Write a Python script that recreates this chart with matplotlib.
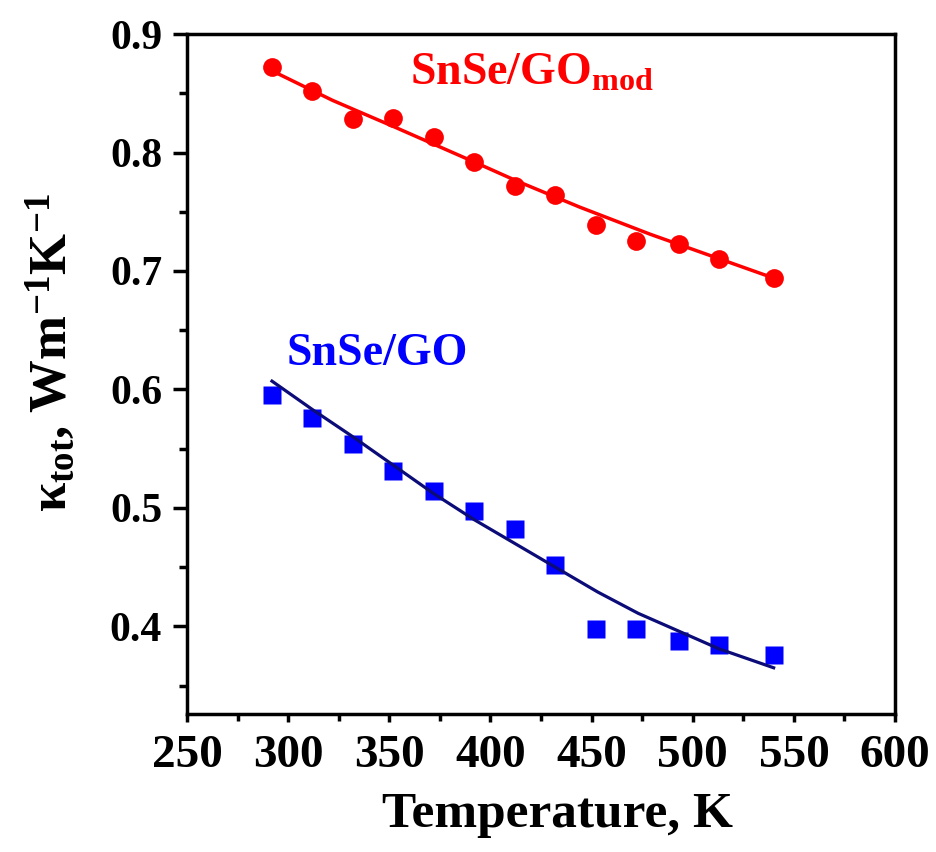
import matplotlib
matplotlib.use("Agg")
import matplotlib.pyplot as plt
from matplotlib.ticker import MultipleLocator, FormatStrFormatter

# ---- data ----
temperature = [292, 312, 332, 352, 372, 392, 412, 432, 452, 472, 493, 513, 540]
kappa_mod = [0.872, 0.852, 0.828, 0.829, 0.813, 0.792, 0.772, 0.764, 0.739, 0.725, 0.723, 0.710, 0.694]
kappa_go = [0.595, 0.576, 0.554, 0.531, 0.514, 0.497, 0.482, 0.452, 0.398, 0.398, 0.388, 0.384, 0.376]

fit_mod_T = [292, 322, 352, 372, 392, 413, 444, 479, 540]
fit_mod = [0.869, 0.844, 0.822, 0.807, 0.792, 0.776, 0.754, 0.731, 0.694]
fit_go_T = [292, 312, 332, 352, 372, 392, 413, 433, 453, 473, 493, 513, 540]
fit_go = [0.607, 0.583, 0.560, 0.536, 0.512, 0.490, 0.469, 0.449, 0.429, 0.411, 0.396, 0.381, 0.365]

label_mod = "SnSe/GO$_{\\mathbf{mod}}$"
label_go = "SnSe/GO"
xlabel = "Temperature, K"
ylabel = "$\\kappa_{\\mathbf{tot}}$, Wm$^{\\mathbf{-1}}$K$^{\\mathbf{-1}}$"

# ---- style ----
plt.rcParams["font.family"] = ["Liberation Serif", "DejaVu Serif"]
plt.rcParams["font.weight"] = "bold"
plt.rcParams["mathtext.fontset"] = "custom"
plt.rcParams["mathtext.rm"] = "Liberation Serif:bold"
plt.rcParams["mathtext.it"] = "Liberation Serif"
plt.rcParams["mathtext.bf"] = "Liberation Serif:bold"

RED = "#ff0000"
BLUE = "#0000ff"
NAVY = "#0c0c78"

fig = plt.figure(figsize=(9.37, 8.52), dpi=100)
ax = fig.add_axes([0.1996, 0.162, 0.7556, 0.798])

ax.plot(fit_mod_T, fit_mod, color=RED, lw=2.5, zorder=2)
ax.plot(temperature, kappa_mod, "o", color=RED, ms=13.5, mec="none", zorder=3)
ax.plot(temperature, kappa_go, "s", color=BLUE, ms=12.5, mec="none", zorder=2)
ax.plot(fit_go_T, fit_go, color=NAVY, lw=2.3, zorder=3)

ax.text(360, 0.857, label_mod, color=RED, fontsize=33, fontweight="bold",
        ha="left", va="baseline")
ax.text(299.3, 0.621, label_go, color=BLUE, fontsize=33, fontweight="bold",
        ha="left", va="baseline")

ax.set_xlim(250, 600)
ax.set_ylim(0.326, 0.9)
ax.xaxis.set_major_locator(MultipleLocator(50))
ax.xaxis.set_minor_locator(MultipleLocator(25))
ax.yaxis.set_major_locator(MultipleLocator(0.1))
ax.yaxis.set_minor_locator(MultipleLocator(0.05))
ax.yaxis.set_major_formatter(FormatStrFormatter("%.1f"))

for s in ax.spines.values():
    s.set_linewidth(2.5)

ax.tick_params(axis="x", which="major", direction="out", length=6, width=2.5,
               pad=9, labelsize=34)
ax.tick_params(axis="x", which="minor", direction="out", length=5, width=2.5)
ax.tick_params(axis="y", which="major", direction="out", length=10, width=2.5,
               pad=8, labelsize=30)
ax.tick_params(axis="y", which="minor", direction="out", length=6, width=2.5)
for lab in ax.get_xticklabels() + ax.get_yticklabels():
    lab.set_fontweight("bold")

ax.set_xlabel(xlabel, fontsize=37, fontweight="bold")
ax.xaxis.set_label_coords(0.5226, -0.115)
ax.set_ylabel(ylabel, fontsize=38, fontweight="bold")
ax.yaxis.set_label_coords(-0.155, 0.531)

fig.savefig("out.png", dpi=100)
